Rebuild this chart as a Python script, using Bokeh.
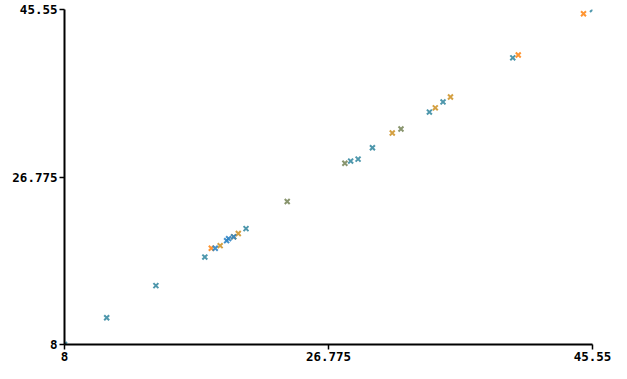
from bokeh.plotting import figure
from bokeh.models import Range1d, FixedTicker
from bokeh.embed import file_html
from bokeh.resources import INLINE

# --- data ---
tick_values = [8, 26.775, 45.55]
tick_labels = ["8", "26.775", "45.55"]

teal_x = [8.0, 11.0, 14.5, 17.98, 20.91, 28.35, 28.88, 29.90, 33.95, 34.92, 39.88, 45.55]
teal_y = [8.0, 11.0, 14.6, 17.80, 20.99, 28.56, 28.78, 30.06, 34.05, 35.19, 40.13, 45.55]

blue_x = [18.72, 19.53, 19.67, 20.03]
blue_y = [18.79, 19.64, 19.86, 20.07]

orange_x = [18.44, 40.27, 44.91]
orange_y = [18.79, 40.45, 45.07]

gold_x = [19.07, 20.03, 20.36, 31.31, 34.37, 35.45]
gold_y = [19.08, 20.07, 20.44, 31.71, 34.53, 35.74]

olive_x = [23.84, 27.94, 31.93]
olive_y = [24.03, 28.31, 32.15]

p = figure(width=611, height=363, output_backend="svg", toolbar_location=None,
           x_range=Range1d(8, 45.55), y_range=Range1d(8, 45.55),
           min_border_left=64, min_border_right=19, min_border_top=9, min_border_bottom=0)

p.outline_line_color = None
p.xgrid.visible = False
p.ygrid.visible = False
p.background_fill_color = "white"
p.border_fill_color = "white"

series = [
    (teal_x, teal_y, "#3b8ca3"),
    (orange_x, orange_y, "#ff8a1c"),
    (gold_x, gold_y, "#cf962e"),
    (olive_x, olive_y, "#7c8a5e"),
    (blue_x, blue_y, "#2f84c4"),
]
for xs, ys, c in series:
    p.scatter(xs, ys, marker="x", size=7, line_color=c, line_width=2, line_alpha=0.9)

overrides = {v: l for v, l in zip(tick_values, tick_labels)}
for ax in (p.xaxis[0], p.yaxis[0]):
    ax.ticker = FixedTicker(ticks=tick_values)
    ax.major_label_overrides = overrides
    ax.minor_tick_line_color = None
    ax.major_tick_out = 5
    ax.major_tick_in = 0
    ax.major_tick_line_color = "black"
    ax.major_tick_line_width = 1.5
    ax.axis_line_color = "black"
    ax.axis_line_width = 2
    ax.major_label_text_font = "DejaVu Sans Mono"
    ax.major_label_text_font_style = "bold"
    ax.major_label_text_font_size = "12.5px"
    ax.major_label_text_color = "black"
    ax.major_label_standoff = 2

open("out.html", "w").write(file_html(p, INLINE))
